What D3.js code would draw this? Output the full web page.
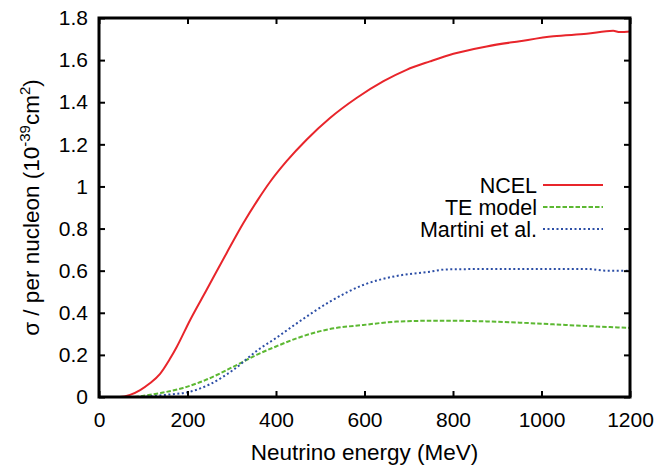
<!DOCTYPE html>
<html>
<head>
<meta charset="utf-8">
<script src="https://cdn.jsdelivr.net/npm/d3@7"></script>
<style>
  body { margin: 0; background: #fff; }
  svg text { font-family: "Liberation Sans", Arial, sans-serif; fill: #000; }
</style>
</head>
<body>
<div id="chart"></div>
<script>
// energy (MeV) / cross section (1e-39 cm^2)
const ncelE = [0, 47, 70, 93, 115, 138, 160, 175, 206, 243, 288, 326, 360, 386, 424, 469, 522, 582, 643, 695, 748, 801, 876, 951, 1027, 1102, 1162, 1177, 1200];
const ncelV = [0, 0, 0.01, 0.033, 0.065, 0.11, 0.18, 0.235, 0.366, 0.508, 0.682, 0.825, 0.94, 1.02, 1.12, 1.222, 1.325, 1.42, 1.50, 1.554, 1.594, 1.63, 1.665, 1.69, 1.713, 1.725, 1.739, 1.733, 1.736];

const teE = [80, 142, 190, 240, 303, 356, 400, 447, 522, 597, 673, 748, 801, 876, 951, 1027, 1102, 1200];
const teV = [0, 0.02, 0.043, 0.08, 0.143, 0.2, 0.24, 0.279, 0.323, 0.342, 0.358, 0.362, 0.362, 0.359, 0.353, 0.345, 0.337, 0.328];

const martiniE = [96, 150, 206, 250, 303, 359, 400, 447, 522, 597, 673, 748, 786, 900, 1102, 1147, 1200];
const martiniV = [0, 0.01, 0.025, 0.06, 0.128, 0.223, 0.28, 0.35, 0.453, 0.532, 0.575, 0.595, 0.606, 0.608, 0.608, 0.60, 0.60];

const xTicks = [0, 200, 400, 600, 800, 1000, 1200];
const yTicks = [0, 0.2, 0.4, 0.6, 0.8, 1, 1.2, 1.4, 1.6, 1.8];

const seriesNames = ["NCEL", "TE model", "Martini et al."];
const seriesColors = ["#e8252b", "#5cb832", "#2c4ea6"];
const seriesDash = [null, "4.5,2", "2,2.5"];

const width = 662, height = 466;
const padL = 99, padR = 630, padT = 18, padB = 397;

const svg = d3.select("#chart").append("svg")
    .attr("width", width).attr("height", height);

const x = d3.scaleLinear().domain([0, 1200]).range([padL, padR]);
const y = d3.scaleLinear().domain([0, 1.8]).range([padB, padT]);

const series = [
    ncelE.map((e, i) => [e, ncelV[i]]),
    teE.map((e, i) => [e, teV[i]]),
    martiniE.map((e, i) => [e, martiniV[i]])
];

const line = d3.line()
    .x(d => x(d[0]))
    .y(d => y(d[1]))
    .curve(d3.curveMonotoneX);

// curves
const plot = svg.append("g");
series.forEach((s, i) => {
    plot.append("path")
        .datum(s)
        .attr("fill", "none")
        .attr("stroke", seriesColors[i])
        .attr("stroke-width", 2)
        .attr("stroke-dasharray", seriesDash[i])
        .attr("d", line);
});

// axes - ticks inward on all four sides
const tickLen = 6;
svg.append("g")
    .attr("transform", `translate(0,${padB})`)
    .call(d3.axisBottom(x).tickValues(xTicks).tickSizeInner(-tickLen).tickSizeOuter(0).tickFormat(d3.format("d")))
    .call(g => g.select(".domain").remove())
    .call(g => g.selectAll("line").attr("stroke-width", 2))
    .call(g => g.selectAll("text").attr("font-size", 21).attr("y", 30).attr("dy", 0));

svg.append("g")
    .attr("transform", `translate(0,${padT})`)
    .call(d3.axisTop(x).tickValues(xTicks).tickSizeInner(-tickLen).tickSizeOuter(0).tickFormat(""))
    .call(g => g.select(".domain").remove())
    .call(g => g.selectAll("line").attr("stroke-width", 2));

svg.append("g")
    .attr("transform", `translate(${padL},0)`)
    .call(d3.axisLeft(y).tickValues(yTicks).tickSizeInner(-tickLen).tickSizeOuter(0).tickPadding(11)
        .tickFormat(d => d3.format("")(+d.toFixed(1))))
    .call(g => g.select(".domain").remove())
    .call(g => g.selectAll("line").attr("stroke-width", 2))
    .call(g => g.selectAll("text").attr("font-size", 21));

svg.append("g")
    .attr("transform", `translate(${padR},0)`)
    .call(d3.axisRight(y).tickValues(yTicks).tickSizeInner(-tickLen).tickSizeOuter(0).tickFormat(""))
    .call(g => g.select(".domain").remove())
    .call(g => g.selectAll("line").attr("stroke-width", 2));

// frame
svg.append("rect")
    .attr("x", padL).attr("y", padT)
    .attr("width", padR - padL).attr("height", padB - padT)
    .attr("fill", "none")
    .attr("stroke", "#000")
    .attr("stroke-width", 3);

// axis titles
svg.append("text")
    .attr("x", (padL + padR) / 2)
    .attr("y", 460)
    .attr("text-anchor", "middle")
    .attr("font-size", 22.5)
    .text("Neutrino energy (MeV)");

const yTitle = svg.append("text")
    .attr("transform", `translate(39,${(padT + padB) / 2}) rotate(-90)`)
    .attr("text-anchor", "middle")
    .attr("font-size", 22.5);
yTitle.append("tspan").text("σ / per nucleon (10");
yTitle.append("tspan").attr("dy", -9).attr("font-size", 15).text("-39");
yTitle.append("tspan").attr("dy", 9).text("cm");
yTitle.append("tspan").attr("dy", -9).attr("font-size", 15).text("2");
yTitle.append("tspan").attr("dy", 9).text(")");

// legend
const legend = svg.append("g");
seriesNames.forEach((name, i) => {
    const ly = 185 + i * 22;
    legend.append("text")
        .attr("x", 537)
        .attr("y", ly)
        .attr("dy", "0.35em")
        .attr("text-anchor", "end")
        .attr("font-size", 21.5)
        .text(name);
    legend.append("line")
        .attr("x1", 543).attr("x2", 603)
        .attr("y1", ly).attr("y2", ly)
        .attr("stroke", seriesColors[i])
        .attr("stroke-width", 2)
        .attr("stroke-dasharray", seriesDash[i]);
});
</script>
</body>
</html>
